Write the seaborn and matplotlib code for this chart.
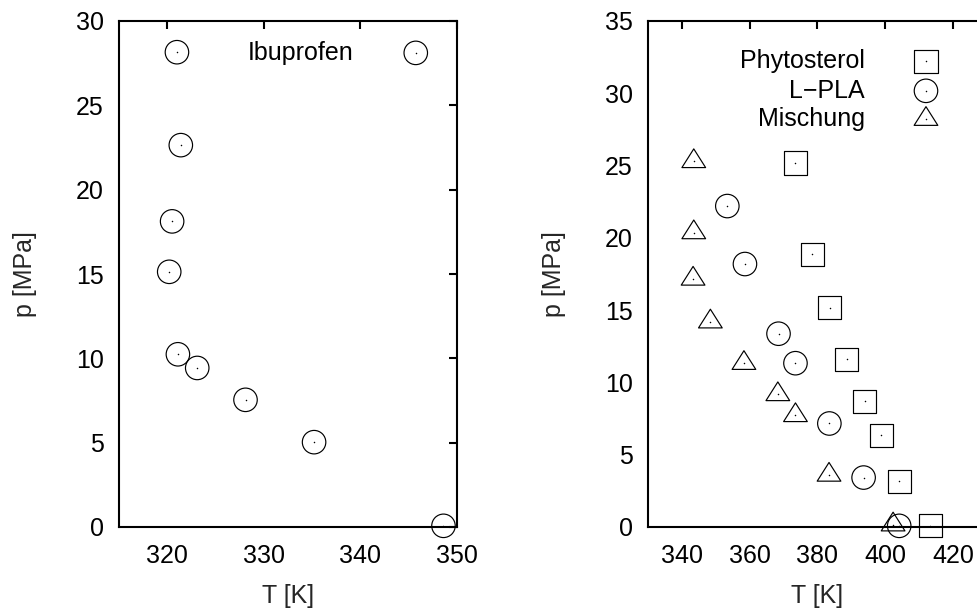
import matplotlib
matplotlib.use("Agg")
import matplotlib.pyplot as plt
from matplotlib.path import Path
import seaborn as sns

# Messwerte Ibuprofen (linkes Diagramm)
ibu_T = [321.0, 321.4, 320.5, 320.2, 321.1, 323.1, 328.1, 335.2, 348.6]
ibu_p = [28.15, 22.64, 18.12, 15.13, 10.24, 9.43, 7.54, 5.03, 0.07]

# rechtes Diagramm
phyto_T = [373.5, 378.5, 383.6, 388.6, 394.0, 398.8, 404.1, 413.3]
phyto_p = [25.18, 18.86, 15.17, 11.6, 8.69, 6.35, 3.17, 0.08]

pla_T = [353.4, 358.6, 368.5, 373.5, 383.5, 393.6, 404.1]
pla_p = [22.2, 18.19, 13.37, 11.33, 7.16, 3.42, 0.08]

misch_T = [343.5, 343.5, 343.3, 348.4, 358.3, 368.3, 373.5, 383.4, 402.3]
misch_p = [25.29, 20.37, 17.16, 14.2, 11.33, 9.17, 7.72, 3.6, 0.16]

links_xticks = [320, 330, 340, 350]
links_yticks = [0, 5, 10, 15, 20, 25, 30]
rechts_xticks = [340, 360, 380, 400, 420]
rechts_yticks = [0, 5, 10, 15, 20, 25, 30, 35]

FS = 18

sns.set_theme(style="white")
plt.rcParams['font.family'] = ['Liberation Sans', 'DejaVu Sans']
plt.rcParams['font.size'] = FS

# gnuplot-Dreieck (flacher als das matplotlib-Dreieck, Mittelpunkt im Schwerpunkt)
dreieck = Path([(0, 12.5), (-11.85, -6.2), (11.85, -6.2), (0, 12.5)],
               [Path.MOVETO, Path.LINETO, Path.LINETO, Path.CLOSEPOLY])

marker_stil = {
    'o': dict(marker='o', s=286),
    's': dict(marker='s', s=276),
    '^': dict(marker=dreieck, s=324),
}


def punkte(ax, x, y, art):
    st = marker_stil[art]
    sns.scatterplot(x=x, y=y, ax=ax, marker=st['marker'], s=st['s'],
                    facecolor='none', edgecolor='black', linewidth=0.85,
                    legend=False, zorder=3)
    # kleiner Punkt in der Mitte wie bei gnuplot
    sns.scatterplot(x=x, y=y, ax=ax, marker='o', s=1.2, color='black',
                    linewidth=0, legend=False, zorder=4)


def schluessel(ax, text, tx, mx, y, art):
    st = marker_stil[art]
    ax.text(tx, y, text, transform=ax.transAxes, ha='right', va='center',
            fontsize=FS, color='black')
    ax.scatter([mx], [y], transform=ax.transAxes, marker=st['marker'], s=st['s'],
               facecolor='none', edgecolor='black', linewidth=0.85, zorder=3,
               clip_on=False)
    ax.scatter([mx], [y], transform=ax.transAxes, marker='o', s=1.2,
               color='black', linewidth=0, zorder=4, clip_on=False)


def achsen_stil(ax):
    for sp in ax.spines.values():
        sp.set_linewidth(1.5)
        sp.set_color('black')
    ax.tick_params(direction='in', length=5.5, width=1.5, top=True, right=True,
                   labelsize=FS, colors='black')
    ax.tick_params(axis='x', pad=12)
    ax.tick_params(axis='y', pad=11)
    ax.set_xlabel("T [K]", fontsize=FS, labelpad=12)
    ax.set_ylabel("p [MPa]", fontsize=FS, labelpad=28)


fig = plt.figure(figsize=(9.78, 6.10), dpi=100)
ax1 = fig.add_axes([119 / 978, 83 / 610, 338 / 978, 506 / 610])
ax2 = fig.add_axes([648 / 978, 83 / 610, 339 / 978, 506 / 610])

punkte(ax1, ibu_T, ibu_p, 'o')
ax1.set_xlim(315, 350)
ax1.set_ylim(0, 30)
ax1.set_xticks(links_xticks)
ax1.set_yticks(links_yticks)
achsen_stil(ax1)
schluessel(ax1, "Ibuprofen", 0.695, 0.878, 0.937, 'o')

punkte(ax2, phyto_T, phyto_p, 's')
punkte(ax2, pla_T, pla_p, 'o')
punkte(ax2, misch_T, misch_p, '^')
ax2.set_xlim(330, 430)
ax2.set_ylim(0, 35)
ax2.set_xticks(rechts_xticks)
ax2.set_yticks(rechts_yticks)
achsen_stil(ax2)
schluessel(ax2, "Phytosterol", 0.640, 0.820, 0.920, 's')
schluessel(ax2, "L\u2212PLA", 0.640, 0.820, 0.862, 'o')
schluessel(ax2, "Mischung", 0.640, 0.820, 0.806, '^')

for ax in (ax1, ax2):
    for c in ax.collections:
        c.set_clip_on(False)

fig.savefig("out.png", dpi=100)
